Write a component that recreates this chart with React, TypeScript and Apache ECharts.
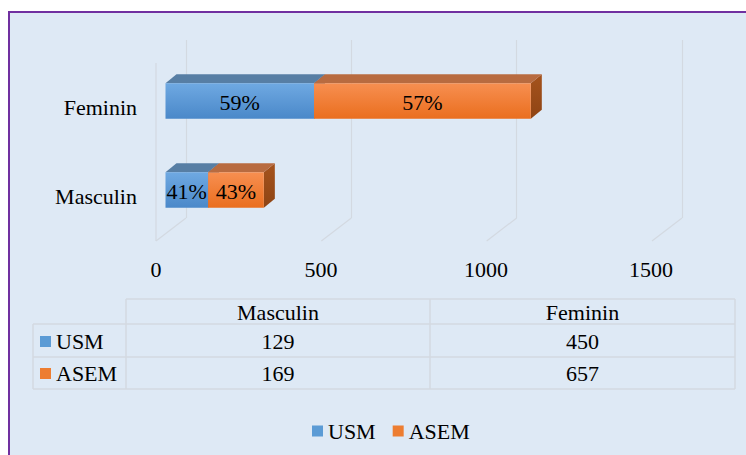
import React, { useEffect, useRef } from "react";
import * as echarts from "echarts";

const categories = ["Masculin", "Feminin"];
const seriesNames = ["USM", "ASEM"];
const usmValues = [129, 450];
const asemValues = [169, 657];
const usmPctLabels = ["41%", "59%"];
const asemPctLabels = ["43%", "57%"];
const axisTicks = [0, 500, 1000, 1500];

const FONT = "'Liberation Serif', serif";
const FS = 22;
const GRID_COLOR = "#D3D9E1";
const DEPTH_X = 30;
const DEPTH_Y = 23;
const BAR_DX = 11;
const BAR_DY = 9;

const palettes = [
  { front: ["#6FA9E2", "#4A88C9"], top: "#577EA4", side: ["#3F6F9E", "#335E88"], legend: "#5B9BD5" },
  { front: ["#F78F51", "#EA6E1E"], top: "#B86B40", side: ["#A5531D", "#8E4414"], legend: "#ED7D31" },
];

function makeBarRender(pi: number, labels: string[]) {
  const pal = palettes[pi];
  return (params: any, api: any) => {
    const cat = api.value(0);
    const start = api.value(1);
    const end = api.value(2);
    const p0 = api.coord([start, cat]);
    const p1 = api.coord([end, cat]);
    const h = api.size([0, 1])[1] * 0.4;
    const x0 = p0[0];
    const x1 = p1[0];
    const yT = p0[1] - h / 2;
    const yB = p0[1] + h / 2;
    return {
      type: "group",
      children: [
        {
          type: "polygon",
          shape: { points: [[x1, yT], [x1 + BAR_DX, yT - BAR_DY], [x1 + BAR_DX, yB - BAR_DY], [x1, yB]] },
          style: {
            fill: new echarts.graphic.LinearGradient(0, 0, 0, 1, [
              { offset: 0, color: pal.side[0] },
              { offset: 1, color: pal.side[1] },
            ]),
          },
        },
        {
          type: "polygon",
          shape: { points: [[x0, yT], [x1, yT], [x1 + BAR_DX, yT - BAR_DY], [x0 + BAR_DX, yT - BAR_DY]] },
          style: { fill: pal.top },
        },
        {
          type: "rect",
          shape: { x: x0, y: yT, width: x1 - x0, height: h },
          style: {
            fill: new echarts.graphic.LinearGradient(0, 0, 0, 1, [
              { offset: 0, color: pal.front[0] },
              { offset: 1, color: pal.front[1] },
            ]),
          },
        },
        {
          type: "text",
          style: {
            text: labels[params.dataIndex],
            x: (x0 + x1) / 2,
            y: p0[1] + 1,
            align: "center",
            verticalAlign: "middle",
            fontSize: FS,
            fontFamily: FONT,
            fill: "#000",
          },
        },
      ],
    };
  };
}

function floorRender(params: any, api: any) {
  const v = api.value(0);
  const p = api.coord([v, 0]);
  const top = api.coord([v, 1]);
  const children: any[] = [
    {
      type: "line",
      shape: { x1: p[0], y1: p[1], x2: p[0] - DEPTH_X, y2: p[1] + DEPTH_Y },
      style: { stroke: GRID_COLOR, lineWidth: 1.2 },
    },
  ];
  if (v === axisTicks[0]) {
    children.push({
      type: "line",
      shape: { x1: p[0] - DEPTH_X, y1: p[1] + DEPTH_Y, x2: p[0] - DEPTH_X, y2: top[1] + DEPTH_Y },
      style: { stroke: GRID_COLOR, lineWidth: 1.2 },
    });
  }
  return { type: "group", children };
}

// table layout (pixels)
const colX = [33, 126, 430, 735];
const rowY = [299, 324, 357, 389];

function buildTable(): any[] {
  const els: any[] = [];
  const ln = (x1: number, y1: number, x2: number, y2: number) => ({
    type: "line",
    shape: { x1, y1, x2, y2 },
    style: { stroke: GRID_COLOR, lineWidth: 1.5 },
    silent: true,
  });
  els.push(ln(colX[1], rowY[0], colX[3], rowY[0]));
  for (let r = 1; r < rowY.length; r++) els.push(ln(colX[0], rowY[r], colX[3], rowY[r]));
  els.push(ln(colX[0], rowY[1], colX[0], rowY[3]));
  for (let c = 1; c < colX.length; c++) els.push(ln(colX[c], rowY[0], colX[c], rowY[3]));
  const txt = (text: string, x: number, y: number, align = "center") => ({
    type: "text",
    x,
    y,
    style: { text, align, verticalAlign: "middle", fontSize: FS, fontFamily: FONT, fill: "#000" },
    silent: true,
  });
  categories.forEach((c, i) => {
    els.push(txt(c, (colX[i + 1] + colX[i + 2]) / 2, 312));
  });
  const rows = [usmValues, asemValues];
  const rowCenters = [341, 373];
  rows.forEach((vals, r) => {
    els.push({
      type: "rect",
      shape: { x: 40, y: rowCenters[r] - 5, width: 11, height: 11 },
      style: { fill: palettes[r].legend },
      silent: true,
    });
    els.push(txt(seriesNames[r], 56, rowCenters[r], "left"));
    vals.forEach((v, i) => {
      els.push(txt(String(v), (colX[i + 1] + colX[i + 2]) / 2, rowCenters[r]));
    });
  });
  return els;
}

export default function App() {
  const ref = useRef<HTMLDivElement>(null);
  useEffect(() => {
    if (!ref.current) return;
    const chart = echarts.init(ref.current, null, { renderer: "svg" });
    const usmData = categories.map((_, i) => [i, 0, usmValues[i]]);
    const asemData = categories.map((_, i) => [i, usmValues[i], usmValues[i] + asemValues[i]]);
    chart.setOption({
      animation: false,
      backgroundColor: "transparent",
      textStyle: { fontFamily: FONT },
      grid: [
        { left: 165.5, width: 495, top: 56.5, height: 178 },
        { left: 186, width: 496, top: 40, height: 178 },
        { left: 156, width: 495, top: 100, height: 141 },
        { left: 165.5, width: 495, top: 62.5, height: 178 },
      ],
      xAxis: [
        { type: "value", gridIndex: 0, min: 0, max: 1500, interval: 500, show: false },
        {
          type: "value",
          gridIndex: 1,
          min: 0,
          max: 1500,
          interval: 500,
          axisLine: { show: false },
          axisTick: { show: false },
          axisLabel: { show: false },
          splitLine: { show: true, lineStyle: { color: GRID_COLOR, width: 1.2 } },
        },
        {
          type: "value",
          gridIndex: 2,
          min: 0,
          max: 1500,
          interval: 500,
          axisLine: { show: false },
          axisTick: { show: false },
          splitLine: { show: false },
          axisLabel: {
            margin: 17,
            fontSize: FS,
            fontFamily: FONT,
            color: "#000",
            formatter: (v: number) => String(v),
          },
        },
        { type: "value", gridIndex: 3, min: 0, max: 1500, interval: 500, show: false },
      ],
      yAxis: [
        {
          type: "category",
          gridIndex: 0,
          data: categories,
          axisLine: { show: false },
          axisTick: { show: false },
          splitLine: { show: false },
          axisLabel: { show: false },
        },
        { type: "value", gridIndex: 1, min: 0, max: 1, show: false },
        { type: "value", gridIndex: 2, min: 0, max: 1, show: false },
        {
          type: "category",
          gridIndex: 3,
          data: categories,
          axisLine: { show: false },
          axisTick: { show: false },
          splitLine: { show: false },
          axisLabel: { margin: 28.5, fontSize: FS, fontFamily: FONT, color: "#000" },
        },
      ],
      legend: {
        data: seriesNames,
        left: 307,
        top: 415,
        icon: "rect",
        itemWidth: 11,
        itemHeight: 11,
        itemGap: 17,
        textStyle: { fontSize: FS, fontFamily: FONT, color: "#000" },
      },
      series: [
        {
          type: "custom",
          name: "floor",
          xAxisIndex: 1,
          yAxisIndex: 1,
          data: axisTicks.map((v) => [v, 0]),
          encode: { x: 0, y: 1 },
          renderItem: floorRender,
          silent: true,
          z: 1,
        },
        {
          type: "custom",
          name: seriesNames[0],
          xAxisIndex: 0,
          yAxisIndex: 0,
          data: usmData,
          encode: { x: [1, 2], y: 0 },
          itemStyle: { color: palettes[0].legend },
          renderItem: makeBarRender(0, usmPctLabels),
          z: 2,
        },
        {
          type: "custom",
          name: seriesNames[1],
          xAxisIndex: 0,
          yAxisIndex: 0,
          data: asemData,
          encode: { x: [1, 2], y: 0 },
          itemStyle: { color: palettes[1].legend },
          renderItem: makeBarRender(1, asemPctLabels),
          z: 3,
        },
      ],
      graphic: buildTable(),
    });
    return () => chart.dispose();
  }, []);

  return (
    <div style={{ position: "fixed", left: 0, top: 0, width: 746, height: 455, overflow: "hidden", background: "#fff" }}>
      <div
        style={{
          position: "absolute",
          left: 8,
          top: 11,
          width: 800,
          height: 500,
          border: "2px solid #7030A0",
          background: "#DEE9F5",
        }}
      />
      <div ref={ref} style={{ position: "absolute", left: 0, top: 0, width: 746, height: 455 }} />
    </div>
  );
}
